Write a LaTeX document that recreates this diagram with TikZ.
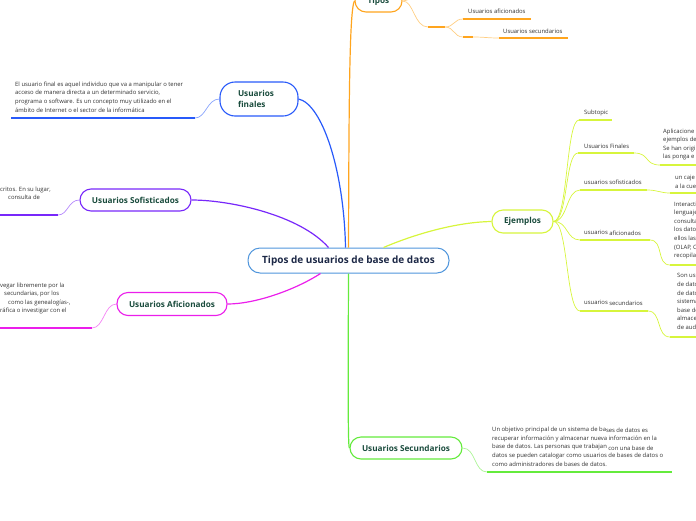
\documentclass[tikz,border=0pt]{standalone}
\usepackage{fontspec}
\setmainfont{Open Sans}
\usepackage{tikz}
\usetikzlibrary{calc}
\definecolor{cblue}{RGB}{40,90,250}
\definecolor{corange}{RGB}{255,165,30}
\definecolor{cpurple}{RGB}{120,40,250}
\definecolor{cmagenta}{RGB}{235,30,235}
\definecolor{clime}{RGB}{215,245,60}
\definecolor{cgreen}{RGB}{100,235,60}
\definecolor{rootline}{RGB}{80,150,220}
\definecolor{topictext}{RGB}{25,75,60}
\definecolor{roottext}{RGB}{28,40,70}
\definecolor{notetext}{RGB}{50,50,50}
\tikzset{topic/.style={draw,fill=white,rounded corners=11pt,line width=1.1pt,text=topictext,font=\bfseries\fontsize{8.2}{11}\selectfont,inner sep=0pt}}
\tikzset{note/.style={inner sep=0pt,align=left,text=notetext,font=\fontsize{5.9}{8.6}\selectfont}}
\tikzset{under/.style={line width=1.8pt}}
\tikzset{twig/.style={line width=0.7pt}}
\tikzset{branch/.style={line width=1.2pt}}

\begin{document}
\begin{tikzpicture}[x=1pt,y=-1pt]
    \clip (0,0) rectangle (696,520);
    % central topic and main topics
    \node [draw=rootline,fill=white,rounded corners=12pt,line width=1pt,minimum width=201pt,minimum height=25pt,
        text=roottext,font=\bfseries\fontsize{10}{12}\selectfont] (root) at (348.5,260.5) {Tipos de usuarios de base de datos};
    \node [topic,draw=corange,minimum width=47pt,minimum height=22pt] (tipos) at (378.5,1) {Tipos};
    \node [topic,draw=cblue,text width=42pt,inner xsep=18pt,minimum height=34pt,align=left,rounded corners=15pt] (finales) at (259,99) {Usuarios\\finales};
    \node [topic,draw=cpurple,minimum width=111pt,minimum height=22pt] (sofist) at (135.5,200) {Usuarios Sofisticados};
    \node [topic,draw=cmagenta,minimum width=110pt,minimum height=23pt] (afic) at (172,304) {Usuarios Aficionados};
    \node [topic,draw=clime,minimum width=61pt,minimum height=23pt] (ejem) at (522.5,221.5) {Ejemplos};
    \node [topic,draw=cgreen,minimum width=112pt,minimum height=22pt] (secund) at (406,448) {Usuarios Secundarios};

    \draw [branch,corange] (root.north) .. controls (349,120) and (349,10) .. (tipos.west);
    \draw [branch,cblue] ($(root.north)+(-3,0)$) .. controls (344,170) and (322,104) .. (finales.east);
    \draw [branch,cpurple] ($(root.north)+(-20,0)$) .. controls (300,215) and (230,200) .. (sofist.east);
    \draw [branch,cmagenta] ($(root.south)+(-28,0)$) .. controls (295,290) and (255,304) .. (afic.east);
    \draw [branch,clime] ($(root.north)+(35,0)$) .. controls (420,232) and (460,222) .. (ejem.west);
    \draw [branch,cgreen] (root.south) .. controls (348,400) and (348,448) .. (secund.west);

    % Usuarios finales
    \coordinate (fin1) at (195,118);
    \coordinate (fin2) at (11,118);
    \draw [twig,cblue!55] (finales.west) .. controls (207,99) and (206,118) .. (fin1);
    \draw [under,cblue] (fin1) -- (fin2);
    \node [note,anchor=north west] (fintxt) at (15,81.5) {El usuario final es aquel individuo que va a manipular o tener\\acceso de manera directa a un determinado servicio,\\programa o software. Es un concepto muy utilizado en el\\ámbito de Internet o el sector de la informática};

    % Usuarios Sofisticados
    \coordinate (sof1) at (58,215);
    \coordinate (sof2) at (-2,215);
    \draw [twig,cpurple!55] (sofist.west) .. controls (68,200) and (68,215) .. (sof1);
    \draw [under,cpurple] (sof1) -- (sof2);
    \node [note,anchor=north west] (softxt) at (0,186.5) {critos. En su lugar,\\\hspace*{8pt}consulta de};

    % Usuarios Aficionados
    \coordinate (afi1) at (92,328);
    \coordinate (afi2) at (-2,328);
    \draw [twig,cmagenta!55] (afic.west) .. controls (104,304) and (104,328) .. (afi1);
    \draw [under,cmagenta] (afi1) -- (afi2);
    \node [note,anchor=north west] (afitxt) at (0,282.5) {vegar libremente por la\\\hspace*{4pt}secundarias, por los\\\hspace*{8pt}como las genealogías-,\\ráfica o investigar con el};

    % Tipos
    \coordinate (tip0) at (428,27);
    \coordinate (tip1) at (445,27);
    \coordinate (tip2) at (463,19);
    \coordinate (tip3) at (531,19);
    \coordinate (tip4) at (463,37);
    \coordinate (tip5) at (473,37);
    \coordinate (tip6) at (499,38);
    \coordinate (tip7) at (568,38);
    \coordinate (tip8) at (424,-12);
    \draw [twig,corange!55] (tipos.east) .. controls (414,1) and (414,27) .. (tip0);
    \draw [twig,corange!55] (tipos.east) .. controls (412,0) and (416,-6) .. (tip8);
    \draw [under,corange] (tip0) -- (tip1);
    \draw [twig,corange!55] (tip1) .. controls (454,27) and (454,19) .. (tip2);
    \draw [under,corange] (tip2) -- (tip3);
    \draw [twig,corange!55] (tip1) .. controls (454,27) and (454,37) .. (tip4);
    \draw [under,corange] (tip4) -- (tip5);
    \draw [twig,corange!55] (tip5) .. controls (485,37) and (487,38) .. (tip6);
    \draw [under,corange] (tip6) -- (tip7);
    \node [note,anchor=west] (tipaf) at (468,11) {Usuarios aficionados};
    \node [note,anchor=west] (tipse) at (503,31) {Usuarios secundarios};

    % Ejemplos
    \coordinate (ej1a) at (579,120);
    \coordinate (ej1b) at (612,120);
    \coordinate (ej2a) at (578,153);
    \coordinate (ej2b) at (634,153);
    \coordinate (ej2c) at (660,165);
    \coordinate (ej2d) at (698,165);
    \coordinate (ej3a) at (580,190);
    \coordinate (ej3b) at (647,190);
    \coordinate (ej3c) at (670,193);
    \coordinate (ej3d) at (698,193);
    \coordinate (ej4a) at (580,240);
    \coordinate (ej4b) at (650,240);
    \coordinate (ej4c) at (670,265);
    \coordinate (ej4d) at (698,265);
    \coordinate (ej5a) at (580,311);
    \coordinate (ej5b) at (648,311);
    \coordinate (ej5c) at (670,337);
    \coordinate (ej5d) at (698,337);
    \draw [twig,clime] (ejem.east) .. controls (568,221) and (566,120) .. (ej1a);
    \draw [twig,clime] (ejem.east) .. controls (568,221) and (565,153) .. (ej2a);
    \draw [twig,clime] (ejem.east) .. controls (568,221) and (566,190) .. (ej3a);
    \draw [twig,clime] (ejem.east) .. controls (568,221) and (566,240) .. (ej4a);
    \draw [twig,clime] (ejem.east) .. controls (568,221) and (566,311) .. (ej5a);
    \draw [under,clime] (ej1a) -- (ej1b);
    \draw [under,clime] (ej2a) -- (ej2b);
    \draw [under,clime] (ej3a) -- (ej3b);
    \draw [under,clime] (ej4a) -- (ej4b);
    \draw [under,clime] (ej5a) -- (ej5b);
    \draw [twig,clime] (ej2b) .. controls (650,153) and (644,165) .. (ej2c);
    \draw [twig,clime] (ej3b) .. controls (658,190) and (660,193) .. (ej3c);
    \draw [twig,clime] (ej4b) .. controls (664,240) and (656,265) .. (ej4c);
    \draw [twig,clime] (ej5b) .. controls (662,311) and (656,337) .. (ej5c);
    \draw [under,clime] (ej2c) -- (ej2d);
    \draw [under,clime] (ej3c) -- (ej3d);
    \draw [under,clime] (ej4c) -- (ej4d);
    \draw [under,clime] (ej5c) -- (ej5d);
    \node [note,anchor=west] (ejt1) at (584,113) {Subtopic};
    \node [note,anchor=west] (ejt2) at (584,146) {Usuarios Finales};
    \node [note,anchor=west] (ejt3) at (584,182) {usuarios sofisticados};
    \node [note,anchor=west] (ejt4) at (584,233) {\raisebox{1.2pt}{usuarios} aficionados};
    \node [note,anchor=west] (ejt5) at (584,303) {\raisebox{1.2pt}{usuarios} secundarios};
    \node [note,anchor=north west] (ejd2) at (663,128.5) {Aplicacione\\ejemplos de\\Se han origi\\las ponga e};
    \node [note,anchor=north west] (ejd3) at (675,175) {un caje\\a la cue};
    \node [note,anchor=north west] (ejd4) at (674,201.5) {Interacti\\lenguaje\\consulta\\los datos\\ellos las\\(OLAP, C\\recopila};
    \node [note,anchor=north west] (ejd5) at (677,273.5) {Son usu\\de datos\\de datos\\sistema\\base de\\almace\\de aud};

    % Usuarios Secundarios
    \coordinate (sec1) at (487,472);
    \coordinate (sec2) at (672,472);
    \draw [twig,cgreen!55] (secund.east) .. controls (476,448) and (474,472) .. (sec1);
    \draw [under,cgreen] (sec1) -- (sec2);
    \node [note,anchor=north west] (sectxt) at (492,427) {Un objetivo principal de un sistema de ba\raisebox{-1.2pt}{ses de datos es}\\recuperar información y almacenar nueva información en la\\base de datos. Las personas que trabajan \raisebox{-1.2pt}{con una base de}\\datos se pueden catalogar como usuarios de bases de datos o\\como administradores de bases de datos.};
\end{tikzpicture}
\end{document}
